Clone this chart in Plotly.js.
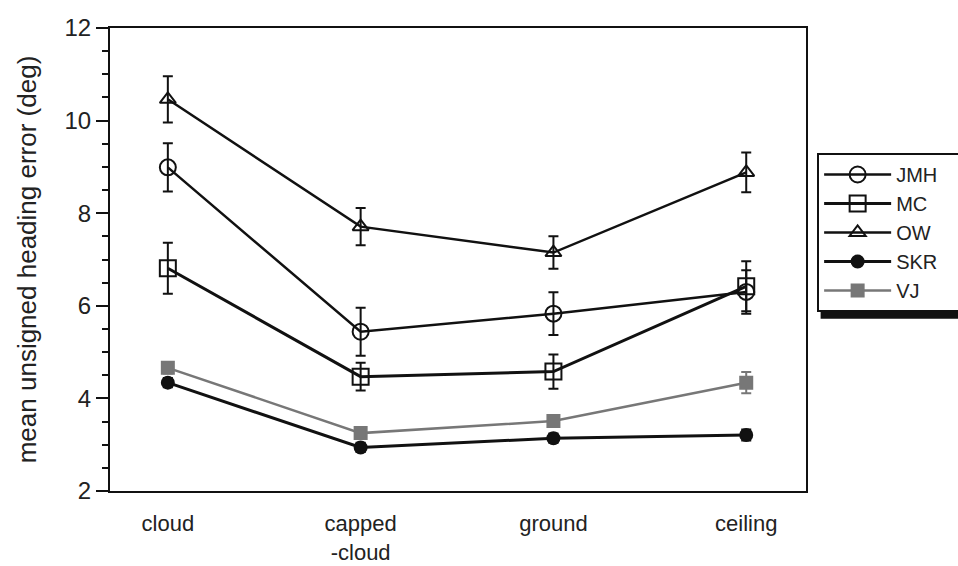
<!DOCTYPE html>
<html>
<head>
<meta charset="utf-8">
<script src="https://cdn.plot.ly/plotly-3.0.1.min.js"></script>
<style>html,body{margin:0;padding:0;background:#fff;}#chart{width:958px;height:566px;}</style>
</head>
<body>
<div id="chart"></div>
<script>
const categories = ["cloud", "capped-cloud", "ground", "ceiling"];
const tickLabels = ["cloud", "capped<br>-cloud", "ground", "ceiling"];
const seriesNames = ["JMH", "MC", "OW", "SKR", "VJ"];

const jmh = [8.99, 5.44, 5.83, 6.30];
const jmhErr = [0.52, 0.52, 0.46, 0.47];
const mc = [6.81, 4.47, 4.58, 6.42];
const mcErr = [0.55, 0.30, 0.37, 0.54];
const ow = [10.46, 7.71, 7.15, 8.88];
const owErr = [0.50, 0.40, 0.35, 0.43];
const skr = [4.34, 2.94, 3.14, 3.21];
const skrErr = [0.10, 0.10, 0.10, 0.12];
const vj = [4.66, 3.25, 3.51, 4.34];
const vjErr = [0.12, 0.08, 0.08, 0.23];

const FONT = "Liberation Sans, Arial, sans-serif";
// pad legend names so the legend box runs past the right edge, as in the reference
const PAD = "\u00a0".repeat(10);

function series(name, y, err, color, symbol, size, lw) {
  return {
    type: "scatter", mode: "lines+markers", name: name + PAD,
    x: categories, y: y,
    line: {color: color, width: lw},
    marker: {symbol: symbol, size: size, color: color,
             line: {color: color, width: 2}},
    error_y: {type: "data", array: err, visible: true,
              color: color, thickness: 2, width: 5}
  };
}

const data = [
  series(seriesNames[0], jmh, jmhErr, "#111", "circle-open", 16, 2.5),
  series(seriesNames[1], mc, mcErr, "#111", "square-open", 16, 3),
  series(seriesNames[2], ow, owErr, "#111", "triangle-up-open", 14, 2.5),
  series(seriesNames[3], skr, skrErr, "#111", "circle", 12, 3),
  series(seriesNames[4], vj, vjErr, "#777", "square", 12, 2.5)
];

const layout = {
  width: 958, height: 566,
  margin: {l: 110, r: 152, t: 28, b: 75, autoexpand: false},
  paper_bgcolor: "#fff", plot_bgcolor: "#fff",
  font: {family: FONT, size: 22, color: "#222"},
  showlegend: true,
  legend: {
    x: 1.016, xanchor: "left", y: 0.73, yanchor: "top",
    bgcolor: "#fff", bordercolor: "#111", borderwidth: 2,
    font: {family: FONT, size: 20, color: "#222"},
    itemwidth: 67, tracegroupgap: 0
  },
  shapes: [{
    type: "rect", xref: "paper", yref: "paper", layer: "above",
    x0: 1.021, x1: 1.4, y0: 0.372, y1: 0.45,
    fillcolor: "#111", line: {width: 0}
  }],
  xaxis: {
    type: "category", range: [-0.30, 3.31],
    tickvals: categories, ticktext: tickLabels,
    ticks: "", showgrid: false, zeroline: false,
    showline: true, linecolor: "#111", linewidth: 2, mirror: true,
    ticklabelstandoff: 12,
    tickfont: {family: FONT, size: 22, color: "#222"}
  },
  yaxis: {
    range: [2, 12], dtick: 2, tick0: 2,
    ticks: "outside", ticklen: 12, tickwidth: 2, tickcolor: "#111",
    minor: {dtick: 0.5, ticks: "outside", ticklen: 6, tickwidth: 2, tickcolor: "#111"},
    showgrid: false, zeroline: false,
    showline: true, linecolor: "#111", linewidth: 2, mirror: true,
    tickfont: {family: FONT, size: 24, color: "#222"},
    title: {text: "mean unsigned heading error (deg)", font: {family: FONT, size: 26, color: "#222"}, standoff: 20}
  }
};

Plotly.newPlot("chart", data, layout, {staticPlot: true, displayModeBar: false});
</script>
</body>
</html>
